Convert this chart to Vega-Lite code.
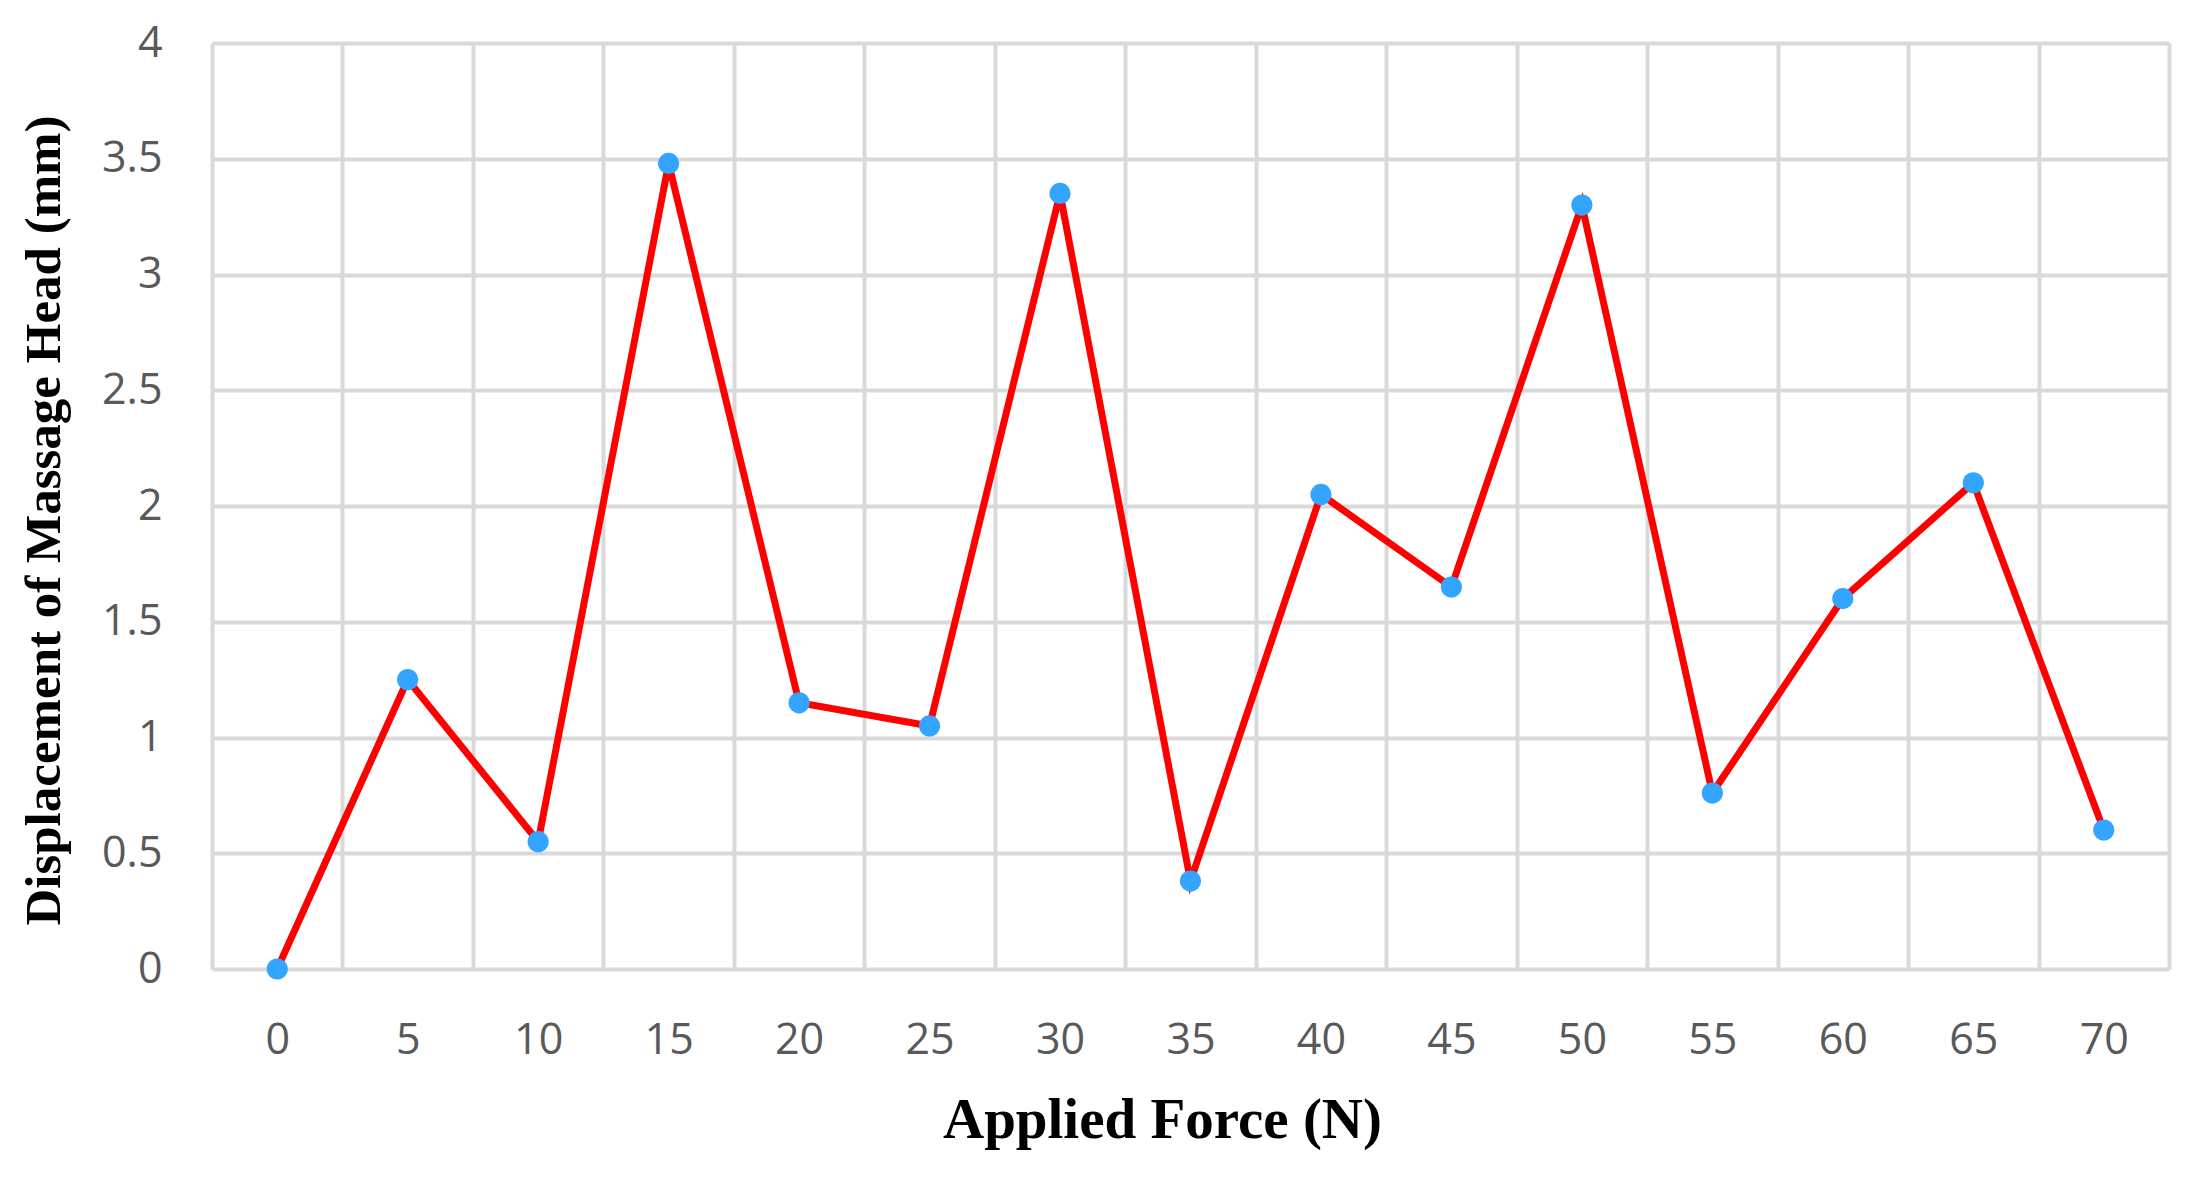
{
  "$schema": "https://vega.github.io/schema/vega-lite/v6.json",
  "width": 1957,
  "height": 926,
  "autosize": {"type": "none"},
  "padding": {"left": 212, "top": 43, "right": 21, "bottom": 210},
  "background": "white",
  "config": {"view": {"stroke": null}},
  "data": {
    "values": [
      {"force": 0, "disp": 0},
      {"force": 5, "disp": 1.25},
      {"force": 10, "disp": 0.55},
      {"force": 15, "disp": 3.48},
      {"force": 20, "disp": 1.15},
      {"force": 25, "disp": 1.05},
      {"force": 30, "disp": 3.35},
      {"force": 35, "disp": 0.38},
      {"force": 40, "disp": 2.05},
      {"force": 45, "disp": 1.65},
      {"force": 50, "disp": 3.3},
      {"force": 55, "disp": 0.76},
      {"force": 60, "disp": 1.6},
      {"force": 65, "disp": 2.1},
      {"force": 70, "disp": 0.6}
    ]
  },
  "encoding": {
    "x": {
      "field": "force",
      "type": "quantitative",
      "scale": {"domain": [-2.5, 72.5], "nice": false, "zero": false},
      "axis": {
        "values": [-2.5, 0, 2.5, 5, 7.5, 10, 12.5, 15, 17.5, 20, 22.5, 25, 27.5, 30, 32.5, 35, 37.5, 40, 42.5, 45, 47.5, 50, 52.5, 55, 57.5, 60, 62.5, 65, 67.5, 70, 72.5],
        "labelExpr": "datum.value % 5 == 0 ? '' + datum.value : ''",
        "labelOverlap": false,
        "labelFlush": false,
        "grid": true,
        "gridColor": "#d9d9d9",
        "gridWidth": 4,
        "gridOpacity": {"condition": {"test": "datum.value % 5 != 0", "value": 1}, "value": 0},
        "domain": false,
        "ticks": false,
        "tickSize": 0,
        "labelPadding": 71,
        "labelBaseline": "middle",
        "labelFont": "Open Sans",
        "labelFontSize": 43,
        "labelColor": "#595959",
        "title": "Applied Force (N)",
        "titleFont": "Liberation Serif",
        "titleFontSize": 57,
        "titleFontWeight": "bold",
        "titleColor": "#000000",
        "titleX": 950,
        "titleY": 151,
        "titleAlign": "center",
        "titleBaseline": "middle"
      }
    },
    "y": {
      "field": "disp",
      "type": "quantitative",
      "scale": {"domain": [0, 4], "nice": false},
      "axis": {
        "values": [0, 0.5, 1, 1.5, 2, 2.5, 3, 3.5, 4],
        "labelExpr": "'' + datum.value",
        "grid": true,
        "gridColor": "#d9d9d9",
        "gridWidth": 4,
        "domain": false,
        "ticks": false,
        "tickSize": 0,
        "labelPadding": 50,
        "labelFont": "Open Sans",
        "labelFontSize": 43,
        "labelColor": "#595959",
        "title": "Displacement of Massage Head (mm)",
        "titleFont": "Liberation Serif",
        "titleFontSize": 51,
        "titleFontWeight": "bold",
        "titleColor": "#000000",
        "titleAngle": -90,
        "titleX": -168,
        "titleY": 477,
        "titleAlign": "center",
        "titleBaseline": "middle"
      }
    }
  },
  "layer": [
    {"mark": {"type": "line", "color": "#ff0000", "strokeWidth": 7}},
    {"mark": {"type": "point", "filled": true, "color": "#33a5ff", "size": 450, "opacity": 1}}
  ]
}
